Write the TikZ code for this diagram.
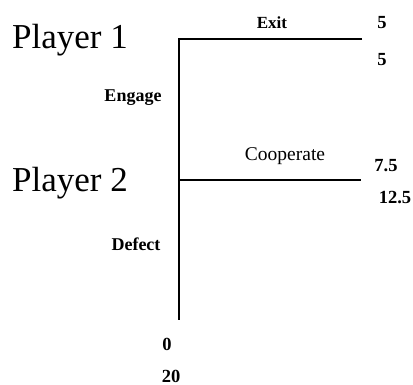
\documentclass[tikz,border=0pt]{standalone}
\usepackage{fontspec}
\setmainfont{Liberation Serif}
\begin{document}
\begin{tikzpicture}[x=1pt,y=-1pt,
  branch/.style={line width=1.4pt, black},
  player/.style={inner sep=0pt, anchor=base, font=\fontsize{35}{40}\selectfont},
  act/.style={inner sep=0pt, anchor=base, font=\bfseries\fontsize{18}{21}\selectfont},
  actreg/.style={inner sep=0pt, anchor=base, font=\fontsize{19.5}{22}\selectfont},
  pay/.style={inner sep=0pt, anchor=base, font=\bfseries\fontsize{18.5}{21}\selectfont}]
\useasboundingbox (0,0) rectangle (413,385);
% decision points and terminal ends
\coordinate (n1) at (179,39);
\coordinate (exitend) at (362,39);
\coordinate (n2) at (179,180);
\coordinate (coopend) at (361,180);
\coordinate (defend) at (179,320);
% tree branches
\draw[branch] (exitend) -- (n1) -- (n2) -- (defend);
\draw[branch] (n2) -- (coopend);
% player labels
\node[player] (p1) at (70,49) {Player 1};
\node[player] (p2) at (70,192) {Player 2};
% action labels
\node[act, font=\bfseries\fontsize{17}{20}\selectfont] (exit) at (272,28.5) {Exit};
\node[act] (engage) at (133,102) {Engage};
\node[actreg] (coop) at (285,161) {Cooperate};
\node[act] (defect) at (136,251) {Defect};
% payoffs
\node[pay] (e1) at (382,29) {5};
\node[pay] (e2) at (382,66) {5};
\node[pay] (c1) at (386,172) {7.5};
\node[pay] (c2) at (395,204) {12.5};
\node[pay] (d1) at (167,351) {0};
\node[pay] (d2) at (171,382) {20};
\end{tikzpicture}
\end{document}
